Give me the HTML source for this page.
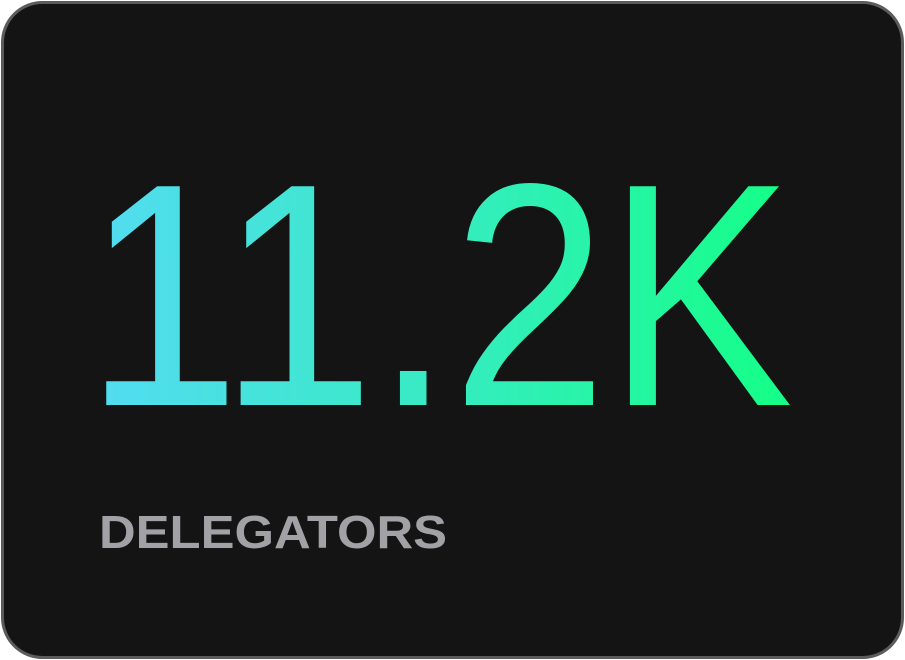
<!DOCTYPE html>
<html>
<head>
<meta charset="utf-8">
<style>
  html,body{margin:0;padding:0;background:#ffffff;}
  body{width:905px;height:660px;overflow:hidden;}
  svg{display:block;}
</style>
</head>
<body>
<svg width="905" height="660" viewBox="0 0 905 660">
  <defs>
    <linearGradient id="g" x1="105" y1="0" x2="795" y2="0" gradientUnits="userSpaceOnUse">
      <stop offset="0" stop-color="#52dcf0"/>
      <stop offset="0.5" stop-color="#36ecc0"/>
      <stop offset="1" stop-color="#14ff86"/>
    </linearGradient>
  </defs>
  <rect x="2.5" y="2.5" width="900" height="655" rx="40" ry="40" fill="#141414" stroke="#5c5c5e" stroke-width="3"/>
  <text x="85" y="405" font-family="Liberation Sans, sans-serif" font-size="318" textLength="708" lengthAdjust="spacingAndGlyphs" fill="url(#g)">11.2K</text>
  <text x="99" y="548" font-family="Liberation Sans, sans-serif" font-weight="bold" font-size="46" textLength="348" lengthAdjust="spacingAndGlyphs" fill="#a1a1a6">DELEGATORS</text>
</svg>
</body>
</html>
